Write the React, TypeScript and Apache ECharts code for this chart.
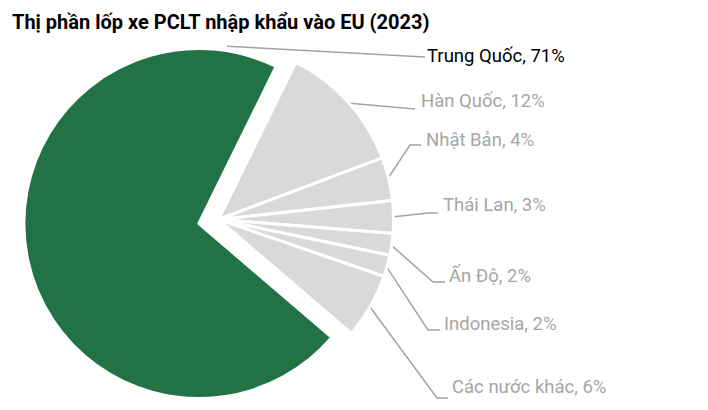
import React, { useEffect, useRef } from "react";
import * as echarts from "echarts";

// ---- data ----
const categories: string[] = [
  "Trung Quốc",
  "Hàn Quốc",
  "Nhật Bản",
  "Thái Lan",
  "Ấn Độ",
  "Indonesia",
  "Các nước khác",
];
const shares: number[] = [71, 12, 4, 3, 2, 2, 6];
const titleText = "Thị phần lốp xe PCLT nhập khẩu vào EU (2023)";

// ---- layout / style (not data) ----
const W = 708;
const H = 410;
const CENTER: [number, number] = [218.5, 219.5];
const RADIUS = 175;
const START_ANGLE = -40.6; // echarts: ccw from 3 o'clock
const EXPLODE = 20;
const EXPLODED_INDEX = 0;
const GREEN = "#217346";
const GREY = "#d9d9d9";
const LABEL_GREY = "#a6a6a6";
const LINE_GREY = "#a3a3a3";
const FONT = "Roboto, 'Noto Sans', Arial, sans-serif";
const TQ_ANCHOR_ANGLE = 9; // deg clockwise from top, on exploded slice

// label text left/middle positions
const LABEL_POS: [number, number][] = [
  [427, 56],
  [421, 101],
  [426, 140],
  [443, 205],
  [449, 276],
  [444, 324],
  [452, 387],
];
// leader line waypoints after the start point on the slice
const LINE_WAYPOINTS: [number, number][][] = [
  [[425, 57]],
  [[415, 109]],
  [[410, 145], [421, 145]],
  [[428, 213], [438, 213]],
  [[433, 282], [445, 282]],
  [[428, 330], [440, 330]],
  [[437, 398], [448, 398]],
];

function dirCW(deg: number): [number, number] {
  const r = (deg * Math.PI) / 180;
  return [Math.sin(r), -Math.cos(r)];
}

function midAnglesCW(): number[] {
  const total = shares.reduce((a, b) => a + b, 0);
  const start = 90 - START_ANGLE;
  let cum = 0;
  return shares.map((v) => {
    const m = start + (360 * (cum + v / 2)) / total;
    cum += v;
    return m;
  });
}

export default function App() {
  const ref = useRef<HTMLDivElement>(null);
  useEffect(() => {
    if (!ref.current) return;
    const chart = echarts.init(ref.current, undefined, { renderer: "svg" });
    const mids = midAnglesCW();
    const visR = RADIUS - 1.5;
    const d0 = dirCW(mids[EXPLODED_INDEX]);
    const explodedCenter: [number, number] = [
      CENTER[0] + EXPLODE * d0[0],
      CENTER[1] + EXPLODE * d0[1],
    ];

    const startPoint = (i: number): [number, number] => {
      if (i === EXPLODED_INDEX) {
        const a = dirCW(TQ_ANCHOR_ANGLE);
        return [explodedCenter[0] + (visR + 6) * a[0], explodedCenter[1] + (visR + 6) * a[1]];
      }
      const d = dirCW(mids[i]);
      return [CENTER[0] + visR * d[0], CENTER[1] + visR * d[1]];
    };

    const makeData = (exploded: boolean) =>
      categories.map((name, i) => {
        const visible = (i === EXPLODED_INDEX) === exploded;
        return {
          name,
          value: shares[i],
          itemStyle: visible
            ? { color: i === EXPLODED_INDEX ? GREEN : GREY }
            : { color: "rgba(0,0,0,0)", borderColor: "rgba(0,0,0,0)" },
          label: visible
            ? { show: true, color: i === EXPLODED_INDEX ? "#000000" : LABEL_GREY }
            : { show: false },
          labelLine: { show: visible },
        };
      });

    const baseSeries = {
      type: "pie",
      radius: RADIUS,
      startAngle: START_ANGLE,
      clockwise: true,
      avoidLabelOverlap: false,
      silent: true,
      emphasis: { disabled: true },
      itemStyle: { borderColor: "#ffffff", borderWidth: 3 },
      label: {
        show: true,
        position: "outside",
        formatter: "{b}, {c}%",
        fontFamily: FONT,
        fontSize: 18.5,
        overflow: "none",
      },
      labelLine: {
        show: true,
        length: 10,
        length2: 10,
        lineStyle: { color: LINE_GREY, width: 1.5 },
      },
      labelLayout: (params: any) => {
        const i = params.dataIndex;
        const pts = [startPoint(i), ...LINE_WAYPOINTS[i]];
        return {
          x: LABEL_POS[i][0],
          y: LABEL_POS[i][1],
          align: "left",
          verticalAlign: "middle",
          labelLinePoints: pts,
        };
      },
    };

    chart.setOption({
      animation: false,
      title: {
        text: titleText,
        left: 7,
        top: 7,
        textStyle: {
          fontFamily: FONT,
          fontSize: 20,
          fontWeight: "bold",
          color: "#000000",
        },
      },
      series: [
        { ...baseSeries, name: "exploded", center: explodedCenter, data: makeData(true) },
        { ...baseSeries, name: "rest", center: CENTER, data: makeData(false) },
      ],
    });
    return () => chart.dispose();
  }, []);

  return (
    <div
      ref={ref}
      style={{ position: "fixed", left: 0, top: 0, width: W, height: H, background: "#ffffff" }}
    />
  );
}
